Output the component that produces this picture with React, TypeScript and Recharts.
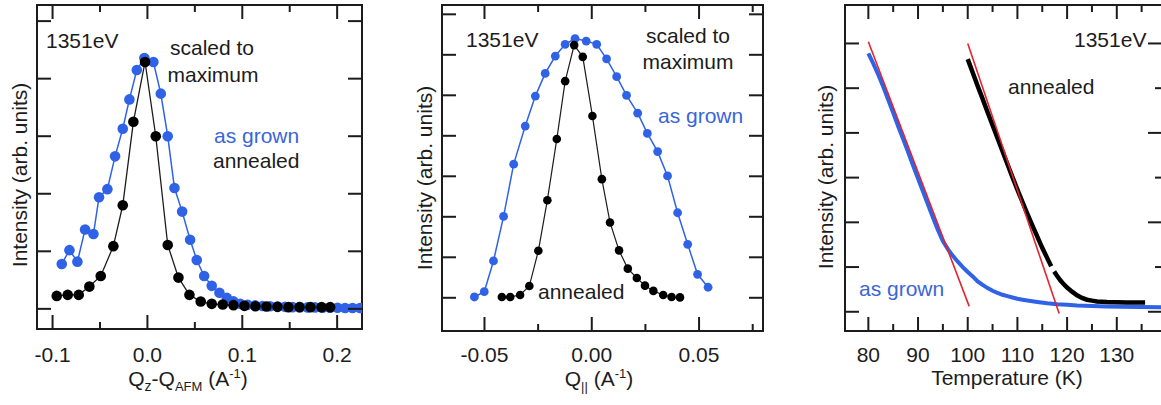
import React from 'react';
import { LineChart, Line, XAxis, YAxis } from 'recharts';

const INK = '#1c1c1c';
const BLUE = '#2f62e6';
const BLUE_TEXT = '#3a66d8';
const RED = '#e3242f';
const FONT = '"Liberation Sans", Arial, sans-serif';
const HEIGHT = 405;

// ---- panel 1: Qz - Q_AFM scans ----
const qzGrown = [-0.0903, -0.0822, -0.0738, -0.0657, -0.0569, -0.051, -0.0422, -0.0341, -0.026, -0.019, -0.0112, -0.0032, 0.0063, 0.0141, 0.0214, 0.0285, 0.0366, 0.045, 0.052, 0.0598, 0.0678, 0.0759, 0.0837, 0.0907, 0.0977, 0.1056, 0.1135, 0.1214, 0.1293, 0.1372, 0.1451, 0.153, 0.1609, 0.1688, 0.1767, 0.1846, 0.1925, 0.2004, 0.2083, 0.2162, 0.2241];
const qzGrownI = [0.78, 1.02, 0.82, 1.38, 1.3, 1.94, 2.08, 2.65, 3.13, 3.64, 4.15, 4.36, 4.29, 3.74, 3.0, 2.1, 1.69, 1.2, 0.85, 0.57, 0.4, 0.28, 0.19, 0.13, 0.09, 0.07, 0.06, 0.05, 0.045, 0.04, 0.035, 0.03, 0.03, 0.025, 0.025, 0.02, 0.02, 0.02, 0.015, 0.015, 0.015];
const qzAnnealed = [-0.0956, -0.084, -0.0724, -0.0612, -0.0492, -0.0359, -0.026, -0.0148, -0.0025, 0.0088, 0.0214, 0.0327, 0.0443, 0.0562, 0.0678, 0.0794, 0.0907, 0.1023, 0.1139, 0.1255, 0.1371, 0.1487, 0.1603, 0.1719, 0.1835, 0.1926];
const qzAnnealedI = [0.225, 0.243, 0.243, 0.387, 0.572, 1.09, 1.8, 3.25, 4.29, 3.0, 1.11, 0.543, 0.243, 0.127, 0.087, 0.075, 0.064, 0.052, 0.045, 0.04, 0.035, 0.03, 0.03, 0.03, 0.03, 0.03];
const qzTicks = [-0.1, -0.05, 0, 0.05, 0.1, 0.15, 0.2];
const qzMajor = [-0.1, 0, 0.1, 0.2];
const p1YTicks = [0, 1, 2, 3, 4, 5];

// ---- panel 2: Q parallel scans ----
const qpGrown = [-0.0547, -0.0501, -0.0458, -0.0411, -0.0364, -0.031, -0.0263, -0.0217, -0.017, -0.0124, -0.0078, -0.0026, 0.0023, 0.0069, 0.0116, 0.0162, 0.0214, 0.0259, 0.0307, 0.0353, 0.04, 0.0447, 0.0493, 0.0542];
const qpGrownI = [0.02, 0.15, 0.91, 2.01, 3.3, 4.24, 4.98, 5.54, 5.97, 6.26, 6.4, 6.34, 6.26, 5.9, 5.46, 5.0, 4.56, 4.06, 3.61, 3.01, 2.1, 1.32, 0.58, 0.26];
const qpAnnealed = [-0.0419, -0.038, -0.0334, -0.0291, -0.0249, -0.0207, -0.0163, -0.0124, -0.0082, -0.0042, 0.0003, 0.0047, 0.0085, 0.0127, 0.0168, 0.021, 0.0248, 0.0287, 0.0333, 0.0372, 0.0411];
const qpAnnealedI = [0.02, 0.02, 0.07, 0.29, 1.16, 2.41, 3.92, 5.35, 6.24, 5.95, 4.49, 2.93, 1.86, 1.17, 0.72, 0.49, 0.3, 0.17, 0.07, 0.02, 0.01];
const qpTicks = [-0.05, -0.025, 0, 0.025, 0.05, 0.075];
const qpMajor = [-0.05, 0, 0.05];
const p2YTicks = [0, 1, 2, 3, 4, 5, 6, 7];

// ---- panel 3: temperature dependence ----
const tGrown = [80, 81, 82, 83, 84, 85, 86, 87, 88, 89, 90, 91, 92, 93, 94, 95, 96, 97, 98, 99, 100, 101, 102, 103, 104, 105, 106, 107, 108, 109, 110, 111, 112, 114, 116, 118, 120, 122, 125, 128, 131, 135, 139];
const tGrownI = [5.78, 5.55, 5.3, 5.03, 4.74, 4.45, 4.15, 3.86, 3.57, 3.27, 2.98, 2.69, 2.4, 2.11, 1.83, 1.58, 1.4, 1.25, 1.12, 1.0, 0.89, 0.79, 0.68, 0.6, 0.53, 0.47, 0.42, 0.38, 0.35, 0.32, 0.29, 0.27, 0.25, 0.22, 0.19, 0.17, 0.155, 0.14, 0.13, 0.12, 0.11, 0.105, 0.1];
const tAnnealed = [100, 101, 102, 103, 104, 105, 106, 107, 108, 109, 110, 111, 112, 113, 114, 115, 116, 116.8, 117.1, 117.4, 118, 118.6, 119.2, 120, 121, 122, 123, 124, 125, 126, 128, 130, 132, 134, 135.7];
const tAnnealedI = [5.65, 5.35, 5.05, 4.76, 4.46, 4.17, 3.88, 3.59, 3.3, 3.01, 2.73, 2.46, 2.19, 1.93, 1.68, 1.43, 1.2, 1.02, null, 0.9, 0.8, 0.71, 0.63, 0.54, 0.45, 0.37, 0.31, 0.27, 0.25, 0.23, 0.22, 0.215, 0.21, 0.21, 0.21];
const fitGrownT = [80, 100.3];
const fitGrownI = [6.04, 0.12];
const fitAnnealedT = [100, 118.4];
const fitAnnealedI = [6.0, -0.04];
const tTicks = [80, 85, 90, 95, 100, 105, 110, 115, 120, 125, 130, 135];
const tMajor = [80, 90, 100, 110, 120, 130];
const p3YTicks = [0, 1, 2, 3, 4, 5, 6];

const zip = (xs: number[], ys: (number | null)[], key: string) => xs.map((x, i) => ({ [key]: x, v: ys[i] }));

const MAJOR = 14;
const MINOR = 7;

const txt = { fontFamily: FONT, fontSize: 21, fill: INK };

interface PanelProps {
  left: number;
  width: number;
  margin: { top: number; right: number; bottom: number; left: number };
  yAxisWidth: number;
  xAxisHeight: number;
  xKey: string;
  xDomain: [number, number];
  yDomain: [number, number];
  xTicks: number[];
  xMajor: number[];
  yTicks: number[];
  rightMinorOdd?: boolean;
  xFmt: (v: number) => string;
  children?: React.ReactNode;
}

const isIn = (list: number[], v: number) => list.some((m) => Math.abs(m - v) < 1e-9);

const Panel: React.FC<PanelProps> = (p) => {
  const plotLeft = p.margin.left + p.yAxisWidth;
  const plotTop = p.margin.top;
  const plotRight = p.width - p.margin.right;
  const plotBottom = HEIGHT - p.margin.bottom - p.xAxisHeight;

  const xTick = (props: any) => {
    const { x, payload } = props;
    const major = isIn(p.xMajor, payload.value);
    const len = major ? MAJOR : MINOR;
    return (
      <g>
        <line x1={x} x2={x} y1={plotBottom} y2={plotBottom - len} stroke={INK} strokeWidth={2} />
        <line x1={x} x2={x} y1={plotTop} y2={plotTop + len} stroke={INK} strokeWidth={2} />
        {major && (
          <text x={x} y={362} textAnchor="middle" {...txt}>
            {p.xFmt(payload.value)}
          </text>
        )}
      </g>
    );
  };

  const yTick = (props: any) => {
    const { y, payload } = props;
    const rlen = p.rightMinorOdd && payload.value % 2 === 1 ? MINOR : MAJOR;
    return (
      <g>
        <line x1={plotLeft} x2={plotLeft + MAJOR} y1={y} y2={y} stroke={INK} strokeWidth={2} />
        <line x1={plotRight} x2={plotRight - rlen} y1={y} y2={y} stroke={INK} strokeWidth={2} />
      </g>
    );
  };

  return (
    <div style={{ position: 'absolute', left: p.left, top: 0 }}>
      <LineChart width={p.width} height={HEIGHT} margin={p.margin}>
        <XAxis type="number" dataKey={p.xKey} domain={p.xDomain} allowDataOverflow ticks={p.xTicks} interval={0}
          tickSize={0} tickMargin={0} axisLine={false} tickLine={false} height={p.xAxisHeight} tick={xTick} />
        <YAxis type="number" domain={p.yDomain} allowDataOverflow ticks={p.yTicks} interval={0}
          tickSize={0} tickMargin={0} axisLine={false} tickLine={false} width={p.yAxisWidth} tick={yTick} />
        {p.children}
        <rect x={plotLeft} y={plotTop} width={plotRight - plotLeft} height={plotBottom - plotTop}
          fill="none" stroke={INK} strokeWidth={2} />
      </LineChart>
    </div>
  );
};

const YTitle: React.FC<{ x: number; y: number }> = ({ x, y }) => (
  <text x={x} y={y} transform={`rotate(-90 ${x} ${y})`} textAnchor="middle" {...txt}>
    Intensity (arb. units)
  </text>
);

export default function App() {
  return (
    <div style={{ position: 'absolute', left: 0, top: 0, width: 1161, height: HEIGHT, overflow: 'hidden', background: '#fff' }}>
      <Panel left={0} width={370} margin={{ top: 5, right: 8, bottom: 0, left: 0 }} yAxisWidth={37} xAxisHeight={76}
        xKey="q" xDomain={[-0.1164, 0.2262]} yDomain={[-0.35, 5.28]} xTicks={qzTicks} xMajor={qzMajor} yTicks={p1YTicks}
        xFmt={(v) => v.toFixed(1)}>
        <Line data={zip(qzGrown, qzGrownI, 'q')} dataKey="v" type="linear" stroke={BLUE} strokeWidth={1.5}
          dot={{ r: 5.3, fill: BLUE, stroke: BLUE, strokeWidth: 0 }} isAnimationActive={false} />
        <Line data={zip(qzAnnealed, qzAnnealedI, 'q')} dataKey="v" type="linear" stroke={INK} strokeWidth={1.3}
          dot={{ r: 5.3, fill: '#000', stroke: '#000', strokeWidth: 0 }} isAnimationActive={false} />
        <text x={46} y={48} {...txt}>1351eV</text>
        <text x={212} y={55} textAnchor="middle" {...txt}>scaled to</text>
        <text x={213} y={82} textAnchor="middle" {...txt}>maximum</text>
        <text x={214} y={143} {...txt} fill={BLUE_TEXT}>as grown</text>
        <text x={213} y={168} {...txt}>annealed</text>
        <YTitle x={26.5} y={175} />
        <text x={188} y={386} textAnchor="middle" {...txt}>
          Q<tspan fontSize={14} dy={5}>z</tspan>
          <tspan dy={-5}>-Q</tspan>
          <tspan fontSize={13} dy={5}>AFM</tspan>
          <tspan dy={-5}> (A</tspan>
          <tspan fontSize={13} dy={-8}>-1</tspan>
          <tspan dy={8}>)</tspan>
        </text>
      </Panel>

      <Panel left={400} width={370} margin={{ top: 5, right: 7, bottom: 0, left: 0 }} yAxisWidth={42} xAxisHeight={74}
        xKey="q" xDomain={[-0.0698, 0.0798]} yDomain={[-0.82, 7.23]} xTicks={qpTicks} xMajor={qpMajor} yTicks={p2YTicks}
        xFmt={(v) => v.toFixed(2)}>
        <Line data={zip(qpGrown, qpGrownI, 'q')} dataKey="v" type="linear" stroke={BLUE} strokeWidth={1.5}
          dot={{ r: 4.4, fill: BLUE, stroke: BLUE, strokeWidth: 0 }} isAnimationActive={false} />
        <Line data={zip(qpAnnealed, qpAnnealedI, 'q')} dataKey="v" type="linear" stroke={INK} strokeWidth={1.2}
          dot={{ r: 4.3, fill: '#000', stroke: '#000', strokeWidth: 0 }} isAnimationActive={false} />
        <text x={66} y={47} {...txt}>1351eV</text>
        <text x={288} y={43} textAnchor="middle" {...txt}>scaled to</text>
        <text x={288} y={69} textAnchor="middle" {...txt}>maximum</text>
        <text x={258} y={123} {...txt} fill={BLUE_TEXT}>as grown</text>
        <text x={138} y={299} {...txt}>annealed</text>
        <YTitle x={31.7} y={178} />
        <text x={199} y={386} textAnchor="middle" {...txt}>
          Q<tspan fontSize={13} dy={5}>||</tspan>
          <tspan dy={-5}> (A</tspan>
          <tspan fontSize={13} dy={-8}>-1</tspan>
          <tspan dy={8}>)</tspan>
        </text>
      </Panel>

      <Panel left={800} width={362} margin={{ top: 5, right: 0, bottom: 0, left: 0 }} yAxisWidth={45} xAxisHeight={74}
        xKey="t" xDomain={[75.3, 139.1]} yDomain={[-0.43, 6.86]} xTicks={tTicks} xMajor={tMajor} yTicks={p3YTicks}
        rightMinorOdd xFmt={(v) => String(v)}>
        <Line data={zip(tGrown, tGrownI, 't')} dataKey="v" type="linear" stroke={BLUE} strokeWidth={4}
          dot={false} isAnimationActive={false} />
        <Line data={zip(tAnnealed, tAnnealedI, 't')} dataKey="v" type="linear" stroke="#000" strokeWidth={4.5}
          dot={false} isAnimationActive={false} />
        <Line data={zip(fitGrownT, fitGrownI, 't')} dataKey="v" type="linear" stroke={RED} strokeWidth={1.6}
          dot={false} isAnimationActive={false} />
        <Line data={zip(fitAnnealedT, fitAnnealedI, 't')} dataKey="v" type="linear" stroke={RED} strokeWidth={1.6}
          dot={false} isAnimationActive={false} />
        <text x={274} y={47} {...txt}>1351eV</text>
        <text x={208} y={94} {...txt}>annealed</text>
        <text x={59} y={296} {...txt} fill={BLUE_TEXT}>as grown</text>
        <YTitle x={33.3} y={177} />
        <text x={207} y={385} textAnchor="middle" {...txt}>Temperature (K)</text>
      </Panel>
    </div>
  );
}
